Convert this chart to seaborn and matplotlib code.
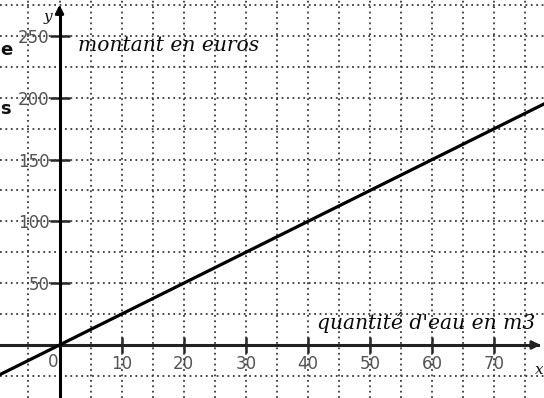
import matplotlib
matplotlib.use("Agg")
import matplotlib.pyplot as plt
import seaborn as sns
import pandas as pd

# Water bill: amount in euros against quantity of water in m3
quantity = [-10, 0, 80]
amount = [-25, 0, 200]

x_ticks = [10, 20, 30, 40, 50, 60, 70]
y_ticks = [50, 100, 150, 200, 250]
x_grid = [-5, 0, 5, 10, 15, 20, 25, 30, 35, 40, 45, 50, 55, 60, 65, 70, 75]
y_grid = [-25, 25, 50, 75, 100, 125, 150, 175, 200, 225, 250, 275]

sns.set_theme(style="white")
plt.rcParams["font.family"] = ["DejaVu Sans"]

fig = plt.figure(figsize=(5.44, 3.98), dpi=100)
ax = fig.add_axes([0, 0, 1, 1])
ax.set_xlim(-9.58, 78.0)
ax.set_ylim(-42.9, 279.1)

# dotted grid
for gx in x_grid:
    ax.axvline(gx, color="#3a3a3a", lw=1.3, ls=(0, (1, 2.0)), zorder=1)
for gy in y_grid:
    ax.axhline(gy, color="#3a3a3a", lw=1.3, ls=(0, (1, 2.0)), zorder=1)

df = pd.DataFrame({"quantite": quantity, "montant": amount})
sns.lineplot(data=df, x="quantite", y="montant", ax=ax, color="black",
             lw=2.3, zorder=4)

# axes through the origin
for side in ["top", "right"]:
    ax.spines[side].set_visible(False)
ax.spines["left"].set_position(("data", 0))
ax.spines["bottom"].set_position(("data", 0))
ax.spines["left"].set_linewidth(2.2)
ax.spines["bottom"].set_linewidth(2.2)
ax.spines["left"].set_color("black")
ax.spines["bottom"].set_color("#222222")
ax.spines["left"].set_zorder(3)
ax.spines["bottom"].set_zorder(3)
ax.spines["left"].set_bounds(-42.9, 270)
ax.spines["bottom"].set_bounds(-9.58, 77.0)

ax.annotate("", xy=(0, 277.5), xytext=(0, 265),
            arrowprops=dict(arrowstyle="-|>", color="black", lw=2.0,
                            mutation_scale=12), zorder=5)
ax.annotate("", xy=(77.9, 0), xytext=(76.0, 0),
            arrowprops=dict(arrowstyle="-|>", color="#222222", lw=2.0,
                            mutation_scale=12), zorder=5)

ax.set_xticks(x_ticks)
ax.set_yticks(y_ticks)
ax.set_xticklabels([str(v) for v in x_ticks])
ax.set_yticklabels([str(v) for v in y_ticks])
ax.tick_params(axis="x", direction="inout", length=12, width=1.8,
               colors="#222222", labelcolor="#555555", labelsize=12, pad=1,
               bottom=True)
ax.tick_params(axis="y", direction="inout", length=14, width=1.8,
               colors="#222222", labelcolor="#555555", labelsize=12, pad=0,
               left=True)
ax.set_xlabel("")
ax.set_ylabel("")

ax.text(-1.05, -13.5, "0", color="#555555", fontsize=12, ha="center",
        va="center")

serif = ["DejaVu Serif"]
ax.text(3.0, 242, "montant en euros", fontsize=14.6, style="italic",
        family=serif, ha="left", va="center", color="#0a0a0a")
ax.text(41.5, 18.5, "quantité d'eau en m3", fontsize=14.6, style="italic",
        family=serif, ha="left", va="center", color="#0a0a0a")
ax.text(-1.8, 265, "y", fontsize=11, style="italic", family=serif,
        ha="center", va="center", color="#111111")
ax.text(76.5, -20, "x", fontsize=11, style="italic", family=serif,
        ha="left", va="center", color="#111111")

# fragments of neighbouring text at the left edge
fig.text(0.0, 0.875, "e", fontsize=13, fontweight="bold", ha="left",
         va="center", color="#111111")
fig.text(0.0, 0.725, "s", fontsize=13, fontweight="bold", ha="left",
         va="center", color="#111111")

fig.savefig("out.png", dpi=100)
